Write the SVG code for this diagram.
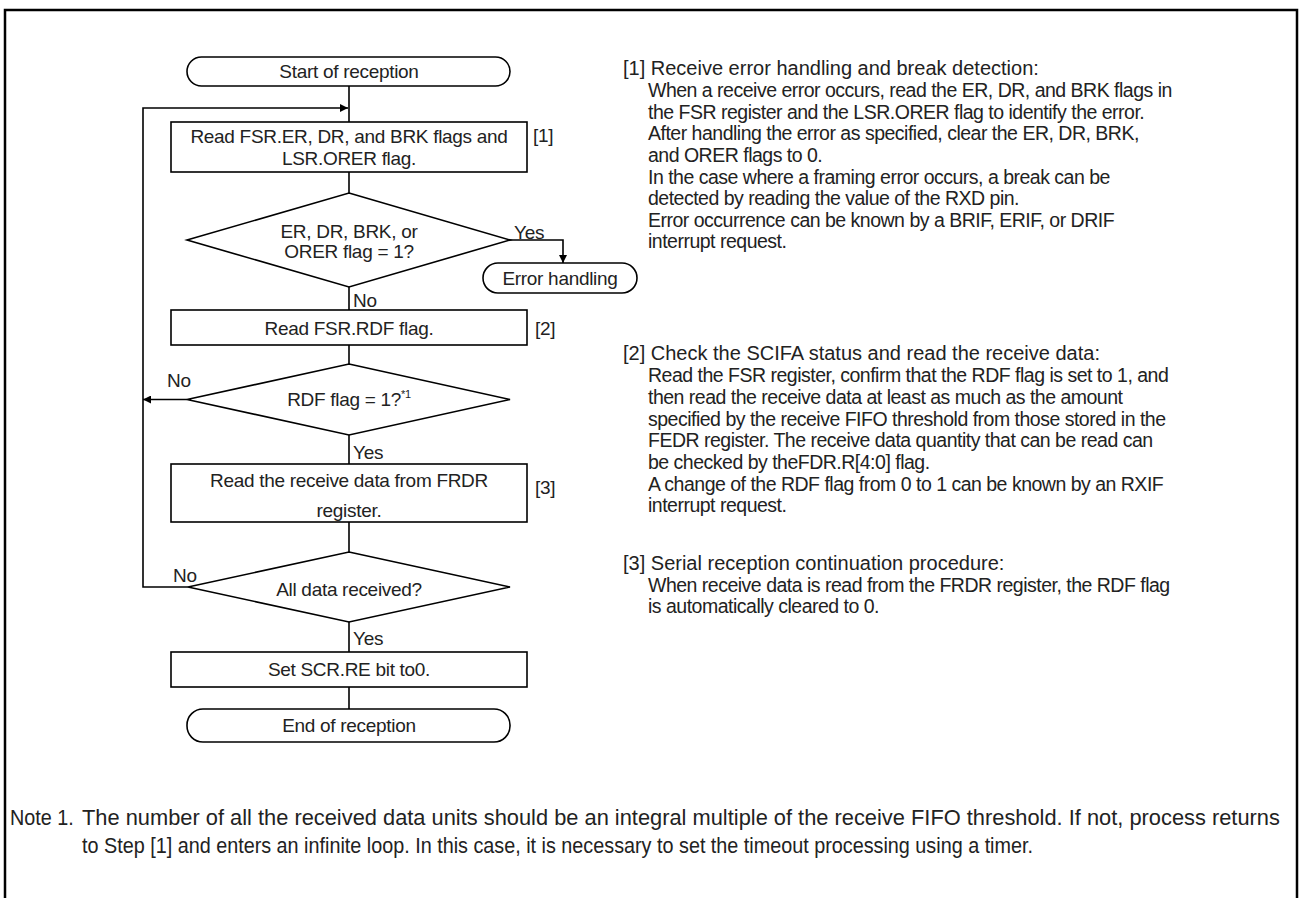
<svg xmlns="http://www.w3.org/2000/svg" width="1300" height="898" viewBox="0 0 1300 898">
<defs>
<marker id="ah" viewBox="0 0 10 10" refX="10" refY="5" markerWidth="8" markerHeight="8" markerUnits="userSpaceOnUse" orient="auto">
<path d="M0,0 L10,5 L0,10 z" fill="#000"/>
</marker>
<style>
.shape{fill:#fff;stroke:#000;stroke-width:1.6}
.ln{fill:none;stroke:#000;stroke-width:1.6}
.t{font-family:"Liberation Sans",Arial,sans-serif;font-size:19px;fill:#222;letter-spacing:-0.3px}
.c{text-anchor:middle}
.h{font-family:"Liberation Sans",Arial,sans-serif;font-size:20px;fill:#222}
.b{font-family:"Liberation Sans",Arial,sans-serif;font-size:19.5px;fill:#222;letter-spacing:-0.5px}
.n{font-family:"Liberation Sans",Arial,sans-serif;font-size:22px;fill:#222}
</style>
</defs>
<rect width="1300" height="898" fill="#fff"/>
<path d="M5,905 V10 H1297 V905" fill="none" stroke="#000" stroke-width="2.5"/>

<g id="connectors">
<path class="ln" d="M349,86 V122"/>
<path class="ln" d="M349,172 V193"/>
<path class="ln" d="M349,287 V310"/>
<path class="ln" d="M349,345 V364"/>
<path class="ln" d="M349,435 V464"/>
<path class="ln" d="M349,522 V552"/>
<path class="ln" d="M349,622 V652"/>
<path class="ln" d="M349,687 V709"/>
<path class="ln" d="M510,240 H563 V263" marker-end="url(#ah)"/>
<path class="ln" d="M187,399.5 H143" marker-end="url(#ah)"/>
<path class="ln" d="M188,587 H143 V108 H348" marker-end="url(#ah)"/>
<text class="t" x="514" y="239">Yes</text>
<text class="t" x="353" y="307">No</text>
<text class="t" x="167" y="387">No</text>
<text class="t" x="353" y="459">Yes</text>
<text class="t" x="173" y="582">No</text>
<text class="t" x="353" y="645">Yes</text>
</g>

<g id="start">
<rect class="shape" x="187" y="57" width="323" height="29" rx="14.5"/>
<text class="t c" x="349" y="78">Start of reception</text>
</g>
<g id="read-errors">
<rect class="shape" x="171" y="122" width="356" height="50"/>
<text class="t c" x="349" y="143">Read FSR.ER, DR, and BRK flags and</text>
<text class="t c" x="349" y="165">LSR.ORER flag.</text>
<text class="t" x="533" y="142">[1]</text>
</g>
<g id="error-check">
<polygon class="shape" points="349,193 510,240 349,287 187,240"/>
<text class="t c" x="349" y="238">ER, DR, BRK, or</text>
<text class="t c" x="349" y="258">ORER flag = 1?</text>
</g>
<g id="error-handling">
<rect class="shape" x="483" y="263" width="154" height="30" rx="15"/>
<text class="t c" x="560" y="285">Error handling</text>
</g>
<g id="read-rdf">
<rect class="shape" x="171" y="310" width="356" height="35"/>
<text class="t c" x="349" y="335">Read FSR.RDF flag.</text>
<text class="t" x="535" y="335">[2]</text>
</g>
<g id="rdf-check">
<polygon class="shape" points="349,364 510,399.5 349,435 187,399.5"/>
<text class="t c" x="349" y="406">RDF flag = 1?<tspan font-size="11" dy="-8">*1</tspan></text>
</g>
<g id="read-data">
<rect class="shape" x="171" y="464" width="356" height="58"/>
<text class="t c" x="349" y="487">Read the receive data from FRDR</text>
<text class="t c" x="349" y="517">register.</text>
<text class="t" x="535" y="494">[3]</text>
</g>
<g id="all-check">
<polygon class="shape" points="349,552 510,587 349,622 188,587"/>
<text class="t c" x="349" y="596">All data received?</text>
</g>
<g id="set-re">
<rect class="shape" x="171" y="652" width="356" height="35"/>
<text class="t c" x="349" y="676">Set SCR.RE bit to0.</text>
</g>
<g id="end">
<rect class="shape" x="187" y="709" width="323" height="33" rx="16"/>
<text class="t c" x="349" y="732">End of reception</text>
</g>

<g id="notes">
<text class="h" x="623" y="75">[1] Receive error handling and break detection:</text>
<text class="b" x="648" y="97">When a receive error occurs, read the ER, DR, and BRK flags in</text>
<text class="b" x="648" y="119">the FSR register and the LSR.ORER flag to identify the error.</text>
<text class="b" x="648" y="140">After handling the error as specified, clear the ER, DR, BRK,</text>
<text class="b" x="648" y="162">and ORER flags to 0.</text>
<text class="b" x="648" y="184">In the case where a framing error occurs, a break can be</text>
<text class="b" x="648" y="205">detected by reading the value of the RXD pin.</text>
<text class="b" x="648" y="227">Error occurrence can be known by a BRIF, ERIF, or DRIF</text>
<text class="b" x="648" y="248">interrupt request.</text>

<text class="h" x="623" y="360">[2] Check the SCIFA status and read the receive data:</text>
<text class="b" x="648" y="382">Read the FSR register, confirm that the RDF flag is set to 1, and</text>
<text class="b" x="648" y="404">then read the receive data at least as much as the amount</text>
<text class="b" x="648" y="426">specified by the receive FIFO threshold from those stored in the</text>
<text class="b" x="648" y="447">FEDR register. The receive data quantity that can be read can</text>
<text class="b" x="648" y="469">be checked by theFDR.R[4:0] flag.</text>
<text class="b" x="648" y="491">A change of the RDF flag from 0 to 1 can be known by an RXIF</text>
<text class="b" x="648" y="512">interrupt request.</text>

<text class="h" x="623" y="570">[3] Serial reception continuation procedure:</text>
<text class="b" x="648" y="592">When receive data is read from the FRDR register, the RDF flag</text>
<text class="b" x="648" y="613">is automatically cleared to 0.</text>

<text class="n" transform="translate(10,825) scale(0.9,1)">Note 1.</text>
<text class="n" transform="translate(82,825) scale(0.9,1)" textLength="1331" lengthAdjust="spacingAndGlyphs">The number of all the received data units should be an integral multiple of the receive FIFO threshold. If not, process returns</text>
<text class="n" transform="translate(82,853) scale(0.9,1)">to Step [1] and enters an infinite loop. In this case, it is necessary to set the timeout processing using a timer.</text>
</g>
</svg>
